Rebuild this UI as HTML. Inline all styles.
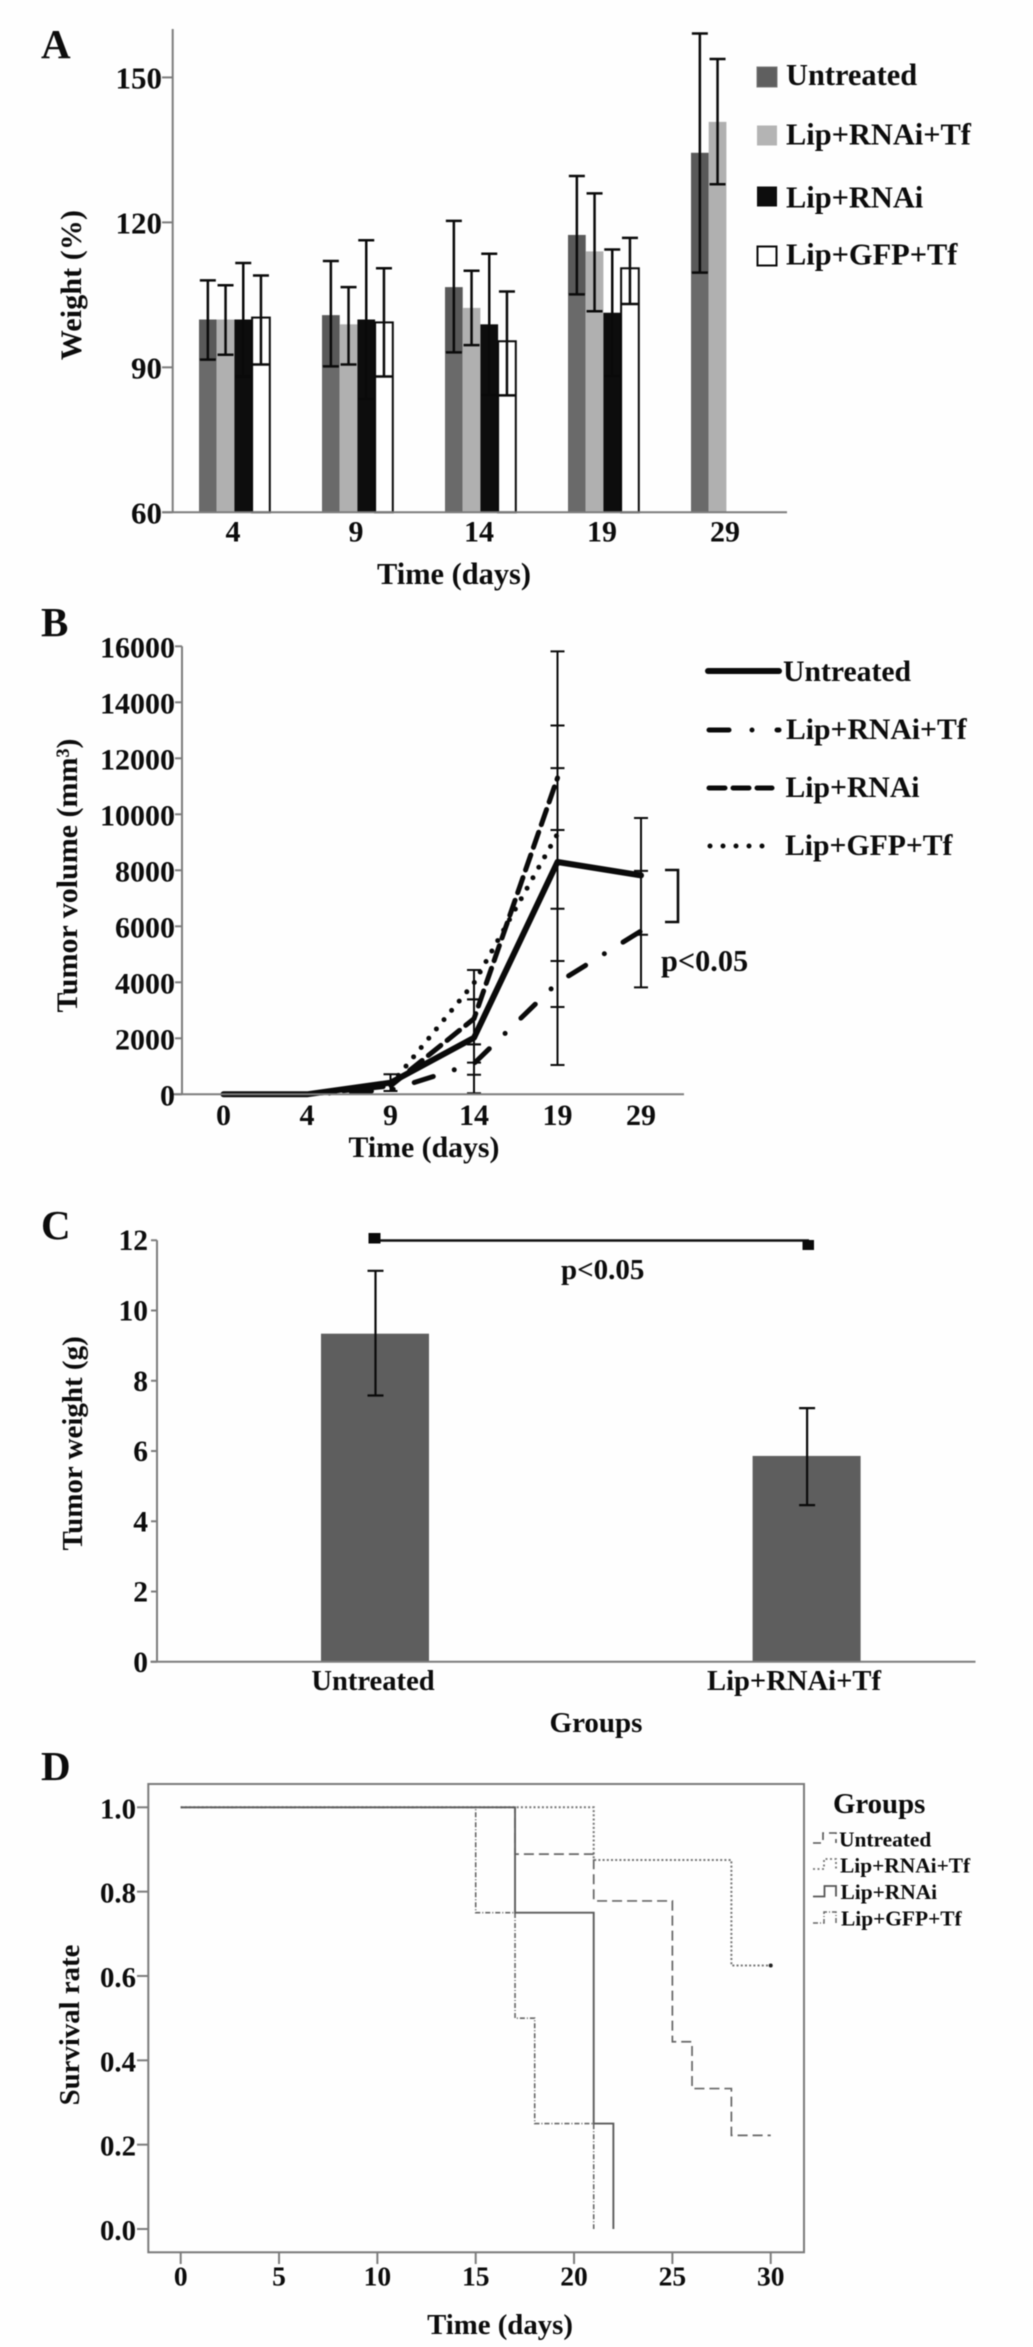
<!DOCTYPE html>
<html lang="en">
<head>
<meta charset="utf-8">
<title>Tumor treatment results</title>
<style>
html,body{margin:0;padding:0;background:#fff;}
svg{display:block;filter:blur(0.45px);}
text{font-family:"Liberation Serif",serif;font-weight:bold;fill:#0c0c0c;}
</style>
</head>
<body>
<svg id="fig" xmlns="http://www.w3.org/2000/svg" width="1033" height="2347" viewBox="0 0 1033 2347">
  <rect x="0" y="0" width="1033" height="2347" fill="#fefefe"/>

  <g id="panel-a">
    <text x="41" y="58" font-size="41">A</text>
    <text transform="translate(81,285) rotate(-90)" text-anchor="middle" font-size="30" letter-spacing="0.1">Weight (%)</text>
    <text x="454" y="584" text-anchor="middle" font-size="30.4">Time (days)</text>
    <g>
      <rect x="757" y="67" width="20" height="20" fill="#5f5f5f" stroke="#777"/>
      <text x="786" y="85" font-size="30.4">Untreated</text>
      <rect x="757" y="125.5" width="20" height="20" fill="#b4b4b4"/>
      <text x="786" y="144.5" font-size="30.4">Lip+RNAi+Tf</text>
      <rect x="757" y="186.5" width="20" height="20" fill="#0d0d0d"/>
      <text x="786" y="207.5" font-size="30.4">Lip+RNAi</text>
      <rect x="757.5" y="246.5" width="19" height="19" fill="#fff" stroke="#0a0a0a" stroke-width="2"/>
      <text x="786" y="264.5" font-size="30.4">Lip+GFP+Tf</text>
    </g>
    <g id="a-marks"></g>
  </g>

  <g id="panel-b">
    <text x="41" y="636" font-size="41">B</text>
    <text transform="translate(77,875.5) rotate(-90)" text-anchor="middle" font-size="30">Tumor volume (mm³)</text>
    <text x="424" y="1157" text-anchor="middle" font-size="29.8">Time (days)</text>
    <g>
      <line x1="708" y1="671" x2="779" y2="671" stroke="#0a0a0a" stroke-width="6" stroke-linecap="round"/>
      <text x="783" y="681" font-size="29.7">Untreated</text>
      <line x1="709" y1="730" x2="779" y2="730" stroke="#0a0a0a" stroke-width="5" stroke-linecap="round" stroke-dasharray="20 23 0 25"/>
      <text x="786" y="739" font-size="29.7">Lip+RNAi+Tf</text>
      <line x1="709" y1="788" x2="772" y2="788" stroke="#0a0a0a" stroke-width="5" stroke-linecap="round" stroke-dasharray="16 8"/>
      <text x="785.5" y="797" font-size="29.7">Lip+RNAi</text>
      <line x1="710" y1="846" x2="772" y2="846" stroke="#0a0a0a" stroke-width="5" stroke-linecap="round" stroke-dasharray="0 13"/>
      <text x="785" y="855" font-size="29.7">Lip+GFP+Tf</text>
    </g>
    <polyline points="665,870 678,870 678,922 665,922" fill="none" stroke="#0a0a0a" stroke-width="2.6"/>
    <text x="661" y="971" font-size="30.3">p&lt;0.05</text>
    <g id="b-marks"></g>
  </g>

  <g id="panel-c">
    <text x="41" y="1239" font-size="41">C</text>
    <text transform="translate(82,1443.4) rotate(-90)" text-anchor="middle" font-size="29">Tumor weight (g)</text>
    <text x="596" y="1732" text-anchor="middle" font-size="29">Groups</text>
    <g id="c-marks"></g>
    <line x1="379" y1="1240.5" x2="809" y2="1240.5" stroke="#111" stroke-width="2.6"/>
    <rect x="368.5" y="1233" width="12" height="10.5" fill="#0a0a0a"/>
    <rect x="802.5" y="1240" width="11.5" height="10" fill="#0a0a0a"/>
    <text x="561" y="1279" font-size="29">p&lt;0.05</text>
  </g>

  <g id="panel-d">
    <text x="41" y="1780" font-size="41">D</text>
    <text transform="translate(79,2025) rotate(-90)" text-anchor="middle" font-size="28.8">Survival rate</text>
    <text x="500" y="2334" text-anchor="middle" font-size="28.8">Time (days)</text>
    <rect x="148.3" y="1784" width="655.7" height="468.3" fill="none" stroke="#7a7a7a" stroke-width="2"/>
    <g id="d-marks"></g>
    <g>
      <text x="833" y="1813" font-size="28.8">Groups</text>
      <path d="M813 1843H823V1833H836V1843" fill="none" stroke="#555" stroke-width="1.6" stroke-dasharray="8 5"/>
      <text x="839" y="1846.7" font-size="21.4">Untreated</text>
      <path d="M813 1869H824V1859H836V1869" fill="none" stroke="#777" stroke-width="1.8" stroke-dasharray="2 2.5"/>
      <text x="840" y="1872.7" font-size="21.4">Lip+RNAi+Tf</text>
      <path d="M813 1896.5H824.5V1886H836V1896.5" fill="none" stroke="#555" stroke-width="1.8"/>
      <text x="840.5" y="1899" font-size="21.4">Lip+RNAi</text>
      <path d="M813 1923H824V1912H836V1923" fill="none" stroke="#666" stroke-width="1.5" stroke-dasharray="5 2 1 2"/>
      <text x="841" y="1925.3" font-size="21.4">Lip+GFP+Tf</text>
    </g>
  </g>
</svg>

<script>
/* Panel A data */
const aCategories = ['4', '9', '14', '19', '29'];
const aTickLabels = ['60', '90', '120', '150'];
const aTickValues = [60, 90, 120, 150];
const aUntreated = [99.9, 100.8, 106.6, 117.4, 134.4];
const aUntreatedHigh = [108, 112, 120.3, 129.6, 159.1];
const aUntreatedLow = [91.6, 90.2, 93.1, 105.1, 109.6];
const aTf = [99.9, 98.9, 102.3, 114, 140.8];
const aTfHigh = [107, 106.6, 110, 126, 153.8];
const aTfLow = [92.6, 90.6, 94.6, 101.6, 127.9];
const aRnai = [99.9, 99.9, 98.9, 101.3, null];
const aRnaiHigh = [111.6, 116.3, 113.5, 114.4, null];
const aRnaiLow = [88.1, 83.5, 84.3, 88.2, null];
const aGfp = [100.3, 99.3, 95.4, 110.5, null];
const aGfpHigh = [109, 110.5, 105.7, 116.8, null];
const aGfpLow = [90.6, 88.1, 84.2, 103.1, null];

/* Panel B data */
const bCategories = ['0', '4', '9', '14', '19', '29'];
const bTickValues = [0, 2000, 4000, 6000, 8000, 10000, 12000, 14000, 16000];
const bTickLabels = ['0', '2000', '4000', '6000', '8000', '10000', '12000', '14000', '16000'];
const bUntreated = [0, 0, 414, 2020, 8296, 7818];
const bUntreatedHigh = [null, null, 714, 3390, 13170, 9870];
const bUntreatedLow = [null, null, 120, 700, 3120, 5700];
const bTf = [0, 0, 150, 1100, 3985, 5830];
const bTfHigh = [null, null, null, 1785, 6625, 7980];
const bTfLow = [null, null, null, 36, 1045, 3820];
const bRnai = [0, 0, 300, 2700, 11300, null];
const bRnaiHigh = [null, null, null, 3390, 15820, null];
const bRnaiLow = [null, null, null, 1130, 9440, null];
const bGfp = [0, 0, 330, 3975, 9300, null];
const bGfpHigh = [null, null, null, 4440, 11650, null];
const bGfpLow = [null, null, null, 1785, 4760, null];

/* Panel C data */
const cCategories = ['Untreated', 'Lip+RNAi+Tf'];
const cTickValues = [0, 2, 4, 6, 8, 10, 12];
const cTickLabels = ['0', '2', '4', '6', '8', '10', '12'];
const cMeans = [9.34, 5.86];
const cHigh = [11.13, 7.22];
const cLow = [7.58, 4.46];

/* Panel D data */
const dXTicks = [0, 5, 10, 15, 20, 25, 30];
const dXLabels = ['0', '5', '10', '15', '20', '25', '30'];
const dYTicks = [0, 0.2, 0.4, 0.6, 0.8, 1];
const dYLabels = ['0.0', '0.2', '0.4', '0.6', '0.8', '1.0'];
const dTfDays = [0, 21, 28, 30];
const dTfSurvival = [1, 0.875, 0.625, 0.625];
const dUntreatedDays = [0, 17, 21, 25, 26, 28, 30];
const dUntreatedSurvival = [1, 0.889, 0.778, 0.444, 0.333, 0.222, 0.222];
const dGfpDays = [0, 15, 17, 18, 21];
const dGfpSurvival = [1, 0.75, 0.5, 0.25, 0];
const dRnaiDays = [0, 17, 21, 22];
const dRnaiSurvival = [1, 0.75, 0.25, 0];

const NS = 'http://www.w3.org/2000/svg';
const AXIS = '#7c7c7c';

function mk(tag, attrs, parent) {
  const node = document.createElementNS(NS, tag);
  for (const k in attrs) node.setAttribute(k, attrs[k]);
  parent.appendChild(node);
  return node;
}

/* ---------- Panel A ---------- */
function aX(i) { return 234 + 123 * i; }
function aY(v) { return 512.3 - (v - 60) * 4.832; }
const aG = document.getElementById('a-marks');
const aBarW = 17.7;
const aSeries = [
  { key: 'untreated', vals: aUntreated, hi: aUntreatedHigh, lo: aUntreatedLow, fill: '#6a6a6a', stroke: 'none' },
  { key: 'lip-rnai-tf', vals: aTf, hi: aTfHigh, lo: aTfLow, fill: '#b0b0b0', stroke: 'none' },
  { key: 'lip-rnai', vals: aRnai, hi: aRnaiHigh, lo: aRnaiLow, fill: '#0d0d0d', stroke: 'none' },
  { key: 'lip-gfp-tf', vals: aGfp, hi: aGfpHigh, lo: aGfpLow, fill: '#ffffff', stroke: '#0a0a0a' }
];
aSeries.forEach(function (s, j) {
  s.vals.forEach(function (v, i) {
    if (v === null) return;
    const left = aX(i) - 35 + j * aBarW;
    const top = aY(v);
    const bar = mk('rect', { x: left, y: top, width: aBarW, height: aY(60) - top, fill: s.fill, stroke: s.stroke, 'stroke-width': 2 }, aG);
    
    
    if (j === 0) {
      const band = mk('rect', { x: left, y: top, width: aBarW, height: aY(s.lo[i]) - top, fill: 'rgba(0,0,0,0.16)' }, aG);
      
      
    }
  });
});
aSeries.forEach(function (s, j) {
  s.vals.forEach(function (v, i) {
    if (v === null) return;
    const cx = aX(i) - 35 + j * aBarW + aBarW / 2;
    const err = mk('path', {
      d: 'M' + cx + ' ' + aY(s.hi[i]) + 'V' + aY(s.lo[i]) +
         'M' + (cx - 8) + ' ' + aY(s.hi[i]) + 'H' + (cx + 8) +
         'M' + (cx - 8) + ' ' + aY(s.lo[i]) + 'H' + (cx + 8),
      fill: 'none', stroke: '#0a0a0a', 'stroke-width': 2.5
    }, aG);
    
    
  });
});
const aAxisY = mk('line', { x1: 172.7, y1: 29, x2: 172.7, y2: 512.3, stroke: AXIS, 'stroke-width': 2 }, aG);


const aAxisX = mk('line', { x1: 162, y1: 512.3, x2: 787, y2: 512.3, stroke: AXIS, 'stroke-width': 2 }, aG);


aTickValues.forEach(function (v, i) {
  const tick = mk('line', { x1: 162, y1: aY(v), x2: 172.7, y2: aY(v), stroke: AXIS, 'stroke-width': 2 }, aG);
  
  
  const t = mk('text', { x: 162, y: aY(v) + 11, 'text-anchor': 'end', 'font-size': 31 }, aG);
  t.textContent = aTickLabels[i];
  
  
});
aCategories.forEach(function (c, i) {
  const t = mk('text', { x: aX(i) - 1, y: 541.5, 'text-anchor': 'middle', 'font-size': 30 }, aG);
  t.textContent = c;
  
  
});

/* ---------- Panel B ---------- */
function bX(i) { return 223.5 + 83.5 * i; }
function bY(v) { return 1094.3 - v * 0.028; }
const bG = document.getElementById('b-marks');
const bSeries = [
  { key: 'lip-gfp-tf', vals: bGfp, hi: bGfpHigh, lo: bGfpLow, width: 5, dash: '0 12' },
  { key: 'lip-rnai', vals: bRnai, hi: bRnaiHigh, lo: bRnaiLow, width: 5, dash: '16 8' },
  { key: 'lip-rnai-tf', vals: bTf, hi: bTfHigh, lo: bTfLow, width: 5, dash: '20 22 0 22' },
  { key: 'untreated', vals: bUntreated, hi: bUntreatedHigh, lo: bUntreatedLow, width: 6, dash: 'none' }
];
bSeries.forEach(function (s) {
  let d = '';
  s.vals.forEach(function (v, i) {
    if (v === null) return;
    d += (d === '' ? 'M' : 'L') + bX(i) + ' ' + bY(v);
  });
  const line = mk('path', { d: d, fill: 'none', stroke: '#0a0a0a', 'stroke-width': s.width, 'stroke-linecap': 'round', 'stroke-linejoin': 'round', 'stroke-dasharray': s.dash }, bG);
  
  
  s.vals.forEach(function (v, i) {
    if (s.hi[i] === null) return;
    const cx = bX(i);
    const err = mk('path', {
      d: 'M' + cx + ' ' + bY(s.hi[i]) + 'V' + bY(s.lo[i]) +
         'M' + (cx - 7) + ' ' + bY(s.hi[i]) + 'H' + (cx + 7) +
         'M' + (cx - 7) + ' ' + bY(s.lo[i]) + 'H' + (cx + 7),
      fill: 'none', stroke: '#0a0a0a', 'stroke-width': 2
    }, bG);
    
    
  });
});
const bAxisY = mk('line', { x1: 182, y1: 646.3, x2: 182, y2: 1094.3, stroke: AXIS, 'stroke-width': 2 }, bG);


const bAxisX = mk('line', { x1: 173, y1: 1094.3, x2: 684, y2: 1094.3, stroke: AXIS, 'stroke-width': 2 }, bG);


bTickValues.forEach(function (v, i) {
  const tick = mk('line', { x1: 175, y1: bY(v), x2: 182, y2: bY(v), stroke: AXIS, 'stroke-width': 2 }, bG);
  
  
  const t = mk('text', { x: 175, y: bY(v) + 11.4, 'text-anchor': 'end', 'font-size': 30 }, bG);
  t.textContent = bTickLabels[i];
  
  
});
bCategories.forEach(function (c, i) {
  const t = mk('text', { x: bX(i), y: 1125, 'text-anchor': 'middle', 'font-size': 30 }, bG);
  t.textContent = c;
  
  
});

/* ---------- Panel C ---------- */
function cX(i) { return 375 + 431.6 * i; }
function cY(v) { return 1661.8 - v * 35.13; }
const cG = document.getElementById('c-marks');
cMeans.forEach(function (v, i) {
  const bar = mk('rect', { x: cX(i) - 54, y: cY(v), width: 108, height: cY(0) - cY(v), fill: '#5e5e5e' }, cG);
  
  
  const cx = cX(i) + 0.5;
  const err = mk('path', {
    d: 'M' + cx + ' ' + cY(cHigh[i]) + 'V' + cY(cLow[i]) +
       'M' + (cx - 8) + ' ' + cY(cHigh[i]) + 'H' + (cx + 8) +
       'M' + (cx - 8) + ' ' + cY(cLow[i]) + 'H' + (cx + 8),
    fill: 'none', stroke: '#0a0a0a', 'stroke-width': 2.2
  }, cG);
  
  
  const t = mk('text', { x: [373, 794][i], y: 1690, 'text-anchor': 'middle', 'font-size': 28.6 }, cG);
  t.textContent = cCategories[i];
  
  
});
const cAxisY = mk('line', { x1: 157, y1: cY(12), x2: 157, y2: cY(0), stroke: AXIS, 'stroke-width': 2 }, cG);


const cAxisX = mk('line', { x1: 150.5, y1: cY(0), x2: 975.5, y2: cY(0), stroke: AXIS, 'stroke-width': 2 }, cG);


cTickValues.forEach(function (v, i) {
  const tick = mk('line', { x1: 151, y1: cY(v), x2: 157, y2: cY(v), stroke: AXIS, 'stroke-width': 2 }, cG);
  
  
  const t = mk('text', { x: 148, y: cY(v) + 10, 'text-anchor': 'end', 'font-size': 29.5 }, cG);
  t.textContent = cTickLabels[i];
  
  
});

/* ---------- Panel D ---------- */
function dX(day) { return 180.7 + day * 19.667; }
function dY(v) { return 2229 - v * 421.7; }
const dG = document.getElementById('d-marks');
dYTicks.forEach(function (v, i) {
  const tick = mk('line', { x1: 137, y1: dY(v), x2: 148.3, y2: dY(v), stroke: AXIS, 'stroke-width': 2 }, dG);
  
  
  const t = mk('text', { x: 136, y: dY(v) + 11, 'text-anchor': 'end', 'font-size': 28.8 }, dG);
  t.textContent = dYLabels[i];
  
  
});
dXTicks.forEach(function (v, i) {
  const tick = mk('line', { x1: dX(v), y1: 2252.3, x2: dX(v), y2: 2264, stroke: AXIS, 'stroke-width': 2 }, dG);
  
  
  const t = mk('text', { x: dX(v), y: 2285.7, 'text-anchor': 'middle', 'font-size': 27.5 }, dG);
  t.textContent = dXLabels[i];
  
  
});
const dSeries = [
  { key: 'lip-rnai-tf', days: dTfDays, surv: dTfSurvival, color: '#777', width: 2, dash: '2 2.2' },
  { key: 'untreated', days: dUntreatedDays, surv: dUntreatedSurvival, color: '#666', width: 1.7, dash: '10 5' },
  { key: 'lip-gfp-tf', days: dGfpDays, surv: dGfpSurvival, color: '#666', width: 1.6, dash: '5 2 1 2' },
  { key: 'lip-rnai', days: dRnaiDays, surv: dRnaiSurvival, color: '#5c5c5c', width: 1.9, dash: 'none' }
];
dSeries.forEach(function (s) {
  let d = 'M' + dX(s.days[0]) + ' ' + dY(s.surv[0]);
  for (let i = 1; i < s.days.length; i++) {
    d += 'H' + dX(s.days[i]) + 'V' + dY(s.surv[i]);
  }
  const step = mk('path', { d: d, fill: 'none', stroke: s.color, 'stroke-width': s.width, 'stroke-dasharray': s.dash }, dG);
  
  
});
const dCensor = mk('circle', { cx: dX(dTfDays[3]), cy: dY(dTfSurvival[3]), r: 2, fill: '#222' }, dG);


</script>
</body>
</html>
